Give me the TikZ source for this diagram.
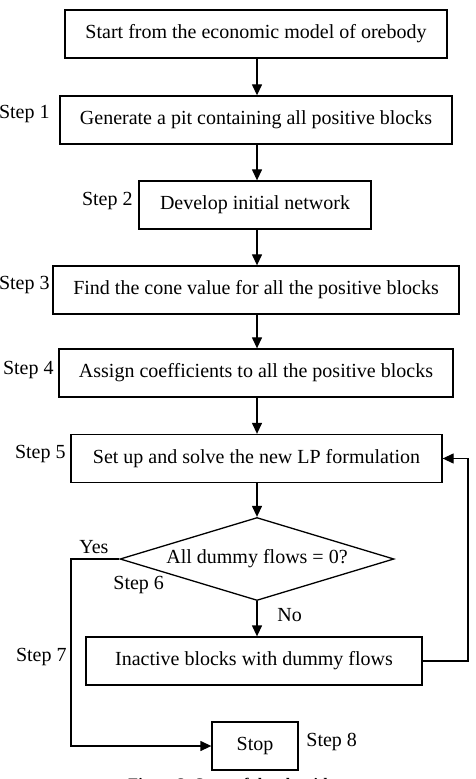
\documentclass[tikz,border=0pt]{standalone}
\usepackage{fontspec}
\setmainfont{Liberation Serif}
\usetikzlibrary{shapes.geometric,arrows.meta}
\begin{document}
\begin{tikzpicture}[x=0.5pt,y=-0.5pt,
  every node/.style={font=\fontsize{10}{12}\selectfont},
  stepbox/.style={draw,line width=0.65pt,rectangle,inner sep=0pt,minimum height=24pt},
  decision/.style={draw,line width=0.65pt,diamond,aspect=3.3,inner sep=0pt,minimum width=137pt,minimum height=41.5pt},
  steplabel/.style={inner sep=0pt},
  arr/.style={line width=0.65pt,-{Triangle[length=5.5pt,width=5pt]}},
  ln/.style={line width=0.65pt}]
\useasboundingbox (0,0) rectangle (475,779);

% process boxes
\node[stepbox,minimum width=191pt] (b0) at (256,34) {Start from the economic model of orebody};
\node[stepbox,minimum width=196pt] (b1) at (256,120) {Generate a pit containing all positive blocks};
\node[stepbox,minimum width=116pt] (b2) at (255,205) {Develop initial network};
\node[stepbox,minimum width=203pt] (b3) at (256,290) {Find the cone value for all the positive blocks};
\node[stepbox,minimum width=197pt] (b4) at (256,373) {Assign coefficients to all the positive blocks};
\node[stepbox,minimum width=185.5pt] (b5) at (256.5,458.5) {Set up and solve the new LP formulation};
\node[decision] (d6) at (257,559) {All dummy flows = 0?};
\node[stepbox,minimum width=168pt] (b7) at (254,661) {Inactive blocks with dummy flows};
\node[stepbox,minimum width=43pt] (b8) at (255,746) {Stop};

% step labels
\node[steplabel,anchor=east] (s1) at (50,114) {Step 1};
\node[steplabel,anchor=east] (s2) at (133,201) {Step 2};
\node[steplabel,anchor=east] (s3) at (50,285) {Step 3};
\node[steplabel,anchor=east] (s4) at (54,370) {Step 4};
\node[steplabel,anchor=east] (s5) at (66,454) {Step 5};
\node[steplabel,anchor=west] (s6) at (113,585) {Step 6};
\node[steplabel,anchor=east] (s7) at (67,657) {Step 7};
\node[steplabel,anchor=west] (s8) at (306,742) {Step 8};
\node[steplabel,anchor=west] (yes) at (79,547) {Yes};
\node[steplabel,anchor=west] (no) at (277,615) {No};

% routing points
\coordinate (fb) at (468,0);
\coordinate (yc) at (71,0);

% connectors
\draw[arr] (b0.south -| 257,0) -- (b1.north -| 257,0);
\draw[arr] (b1.south -| 257,0) -- (b2.north -| 257,0);
\draw[arr] (b2.south -| 257,0) -- (b3.north -| 257,0);
\draw[arr] (b3.south -| 257,0) -- (b4.north -| 257,0);
\draw[arr] (b4.south -| 257,0) -- (b5.north -| 257,0);
\draw[arr] (b5.south -| d6.north) -- (d6.north);
\draw[arr] (d6.south) -- (b7.north -| d6.south);
\draw[arr] (b7.east) -- (b7.east -| fb) |- (b5.east);
\draw[arr] (d6.west) -- (d6.west -| yc) |- (b8.west);

% caption
\node[anchor=base,font=\bfseries\fontsize{8}{9.6}\selectfont] (cap) at (237,789) {Figure 3. Steps of the algorithm};
\end{tikzpicture}
\end{document}
